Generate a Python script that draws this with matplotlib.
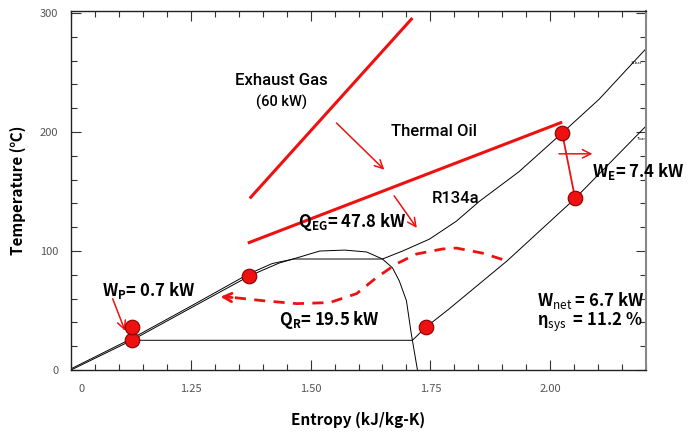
import numpy as np
import matplotlib
matplotlib.use("Agg")
import matplotlib.pyplot as plt
from matplotlib.ticker import MultipleLocator
from matplotlib.transforms import blended_transform_factory

plt.rcParams['font.family'] = ['Noto Sans CJK KR', 'DejaVu Sans']
plt.rcParams['mathtext.fontset'] = 'custom'
plt.rcParams['mathtext.rm'] = 'Noto Sans CJK KR'
plt.rcParams['mathtext.bf'] = 'Noto Sans CJK KR:bold'

# saturation dome of R134a (s in kJ/kg-K, T in C)
dome_s = [1.000, 1.127, 1.248, 1.373, 1.435, 1.471, 1.519, 1.571, 1.617, 1.650,
          1.671, 1.685, 1.700, 1.710, 1.723]
dome_T = [0.0, 25.0, 51.7, 79.2, 90.0, 94.2, 100.0, 100.8, 99.2, 93.3,
          85.8, 75.0, 58.3, 30.8, 0.0]

# high pressure isobar (31 bar)
hp_s = [1.000, 1.127, 1.248, 1.371, 1.420, 1.465, 1.650, 1.692, 1.748, 1.804,
        1.852, 1.935, 2.025, 2.102, 2.198]
hp_T = [1.0, 26.5, 53.2, 80.8, 89.5, 93.3, 93.3, 100.0, 110.0, 125.0,
        141.7, 166.7, 199.2, 227.5, 269.2]

# low pressure isobar (7 bar)
lp_s = [1.127, 1.7125, 1.740, 1.790, 1.910, 2.052, 2.198]
lp_T = [25.0, 25.0, 35.8, 51.7, 91.7, 144.2, 204.2]

# state points
pt_s = [1.127, 1.127, 1.371, 2.025, 2.052, 1.740]
pt_T = [25.0, 35.8, 79.2, 199.2, 144.2, 35.8]

# heat source lines
gas_s = [1.373, 1.7125]
gas_T = [144.2, 295.8]
oil_s = [1.369, 2.025]
oil_T = [106.7, 208.3]

# recuperator heat (dashed)
rec_s = [1.342, 1.400, 1.471, 1.540, 1.596, 1.637, 1.679, 1.721, 1.775, 1.804, 1.858, 1.910]
rec_T = [60.8, 58.3, 55.8, 56.7, 64.2, 77.5, 89.2, 97.5, 101.7, 102.5, 98.3, 91.7]

fig = plt.figure(figsize=(7, 4.4), dpi=100)
ax = fig.add_axes([0.1014, 0.159, 0.8215, 0.816])

thin = dict(color='black', lw=0.7)
ax.plot(dome_s, dome_T, **thin)
ax.plot(hp_s, hp_T, **thin)
ax.plot(lp_s, lp_T, **thin)

red = '#ee1111'
ax.plot(gas_s, gas_T, color=red, lw=2.2, solid_capstyle='butt')
ax.plot(oil_s, oil_T, color=red, lw=2.2, solid_capstyle='butt')
ax.plot([pt_s[3], pt_s[4]], [pt_T[3], pt_T[4]], color=red, lw=1.3)
ax.plot(rec_s, rec_T, color=red, lw=2.0, ls=(0, (4, 3)))

arr = dict(arrowstyle='->,head_length=0.6,head_width=0.3', color=red, lw=1.1)
ax.annotate('', xy=(1.306, 61.7), xytext=(rec_s[0], rec_T[0]),
            arrowprops=dict(arrowstyle='->,head_length=0.6,head_width=0.3', color=red, lw=2.0))
ax.annotate('', xy=(1.658, 166.7), xytext=(1.550, 209.2), arrowprops=arr)
ax.annotate('', xy=(1.725, 117.5), xytext=(1.671, 148.3), arrowprops=arr)
ax.annotate('', xy=(2.094, 181.7), xytext=(2.0125, 181.7), arrowprops=arr)
ax.annotate('', xy=(1.115, 30.8), xytext=(1.085, 62.0), arrowprops=arr)

ax.plot(pt_s, pt_T, 'o', ms=10.5, mfc=red, mec='#880000', mew=0.8, zorder=5)

# text labels
lab = dict(ha='center', va='center', family=['Roboto', 'DejaVu Sans'], fontweight='medium')
ax.text(1.440, 243.3, 'Exhaust Gas', fontsize=12, **lab)
ax.text(1.440, 225.0, '(60 kW)', fontsize=10.5, **lab)
ax.text(1.758, 200.8, 'Thermal Oil', fontsize=12, **lab)
ax.text(1.802, 144.2, 'R134a', fontsize=12, **lab)

bold = dict(fontsize=12, fontweight='bold', va='center')
ax.text(1.5875, 124.2, r'Q$_{\mathbf{EG}}$= 47.8 kW', ha='center', **bold)
ax.text(1.065, 66.7, r'W$_{\mathbf{P}}$= 0.7 kW', ha='left', **bold)
ax.text(1.540, 41.7, r'Q$_{\mathbf{R}}$= 19.5 kW', ha='center', **bold)
ax.text(2.0875, 166.7, r'W$_{\mathbf{E}}$= 7.4 kW', ha='left', **bold)
ax.text(1.973, 58.3, r'W$_{\mathrm{net}}$ = 6.7 kW', ha='left', **bold)
ax.text(1.973, 40.0, r'η$_{\mathrm{sys}}$  = 11.2 %', ha='left', **bold)

ax.text(2.181, 258.3, '31bar', fontsize=3, ha='center', va='center')
ax.text(2.190, 194.2, '7bar', fontsize=3, ha='center', va='center')

ax.set_xlim(1.0, 2.2)
ax.set_ylim(0, 301.7)

ax.xaxis.set_major_locator(MultipleLocator(0.25))
ax.xaxis.set_minor_locator(MultipleLocator(0.05))
ax.yaxis.set_major_locator(MultipleLocator(100))
ax.yaxis.set_minor_locator(MultipleLocator(20))
ax.set_xticks([1.25, 1.5, 1.75, 2.0])
ax.set_xticklabels(['1.25', '1.50', '1.75', '2.00'])
ax.set_yticks([0, 100, 200, 300])
ax.set_yticklabels(['0', '100', '200', '300'])
ax.tick_params(which='both', direction='in', top=True, right=True,
               labelsize=8, labelcolor='#555555', color='#333333')
ax.tick_params(which='major', length=7, width=0.8)
ax.tick_params(which='minor', length=4, width=0.8)
ax.tick_params(axis='x', pad=10)
ax.tick_params(axis='y', pad=9)
trans = blended_transform_factory(ax.transData, ax.transAxes)
ax.text(1.023, -0.053, '0', transform=trans, ha='center', va='center',
        fontsize=8, color='#555555')

for side in ['left', 'bottom', 'top']:
    ax.spines[side].set_color('#222222')
    ax.spines[side].set_linewidth(1.0)
ax.spines['right'].set_color('#888888')
ax.spines['right'].set_linewidth(1.5)

ax.set_xlabel('Entropy (kJ/kg-K)', fontsize=11, fontweight='bold', labelpad=13)
ax.set_ylabel('Temperature (℃)', fontsize=11, fontweight='bold', labelpad=10)

fig.savefig('out.png', dpi=100)
